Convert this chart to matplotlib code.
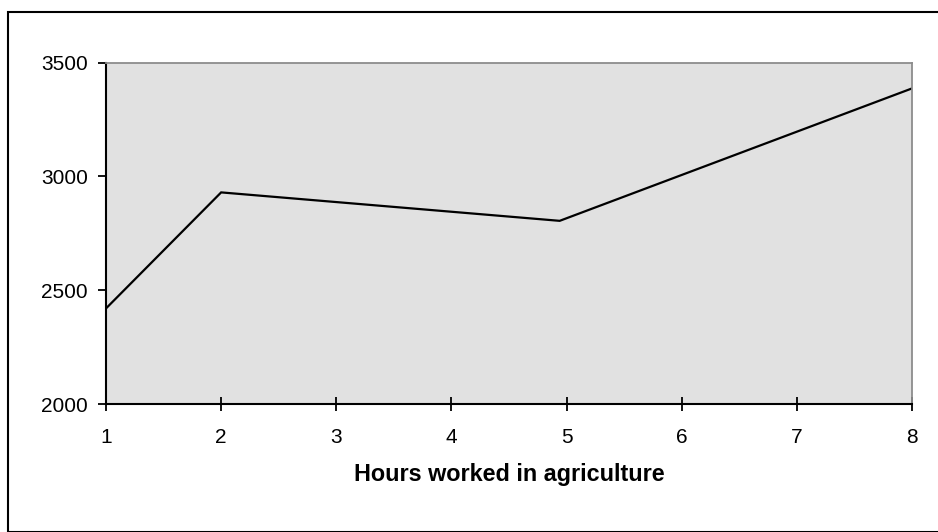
import matplotlib
matplotlib.use("Agg")
import matplotlib.pyplot as plt
from matplotlib.patches import Rectangle

# Hours worked in agriculture vs. output
hours = [1, 2, 4.94, 8]
values = [2420, 2930, 2805, 3387]
x_ticks = [1, 2, 3, 4, 5, 6, 7, 8]
y_ticks = [2000, 2500, 3000, 3500]
x_title = "Hours worked in agriculture"

plt.rcParams['font.family'] = ['Liberation Sans', 'DejaVu Sans']

W, H = 938, 532
fig = plt.figure(figsize=(W / 100, H / 100), dpi=100)

# outer chart frame
fig.patches.append(Rectangle((8 / W, 0), 1.2, 1 - 12 / H, transform=fig.transFigure,
                             fill=False, edgecolor='black', linewidth=1.5, zorder=0))

left, right, bottom, top = 106 / W, 912 / W, 1 - 404 / H, 1 - 62.7 / H
ax = fig.add_axes([left, bottom, right - left, top - bottom])
ax.set_facecolor('#e1e1e1')
ax.plot(hours, values, color='black', linewidth=1.6, solid_joinstyle='miter')

ax.set_xlim(1, 8)
ax.set_ylim(2000, 3500)
ax.set_xticks(x_ticks)
ax.set_yticks(y_ticks)

for s in ['left', 'bottom']:
    ax.spines[s].set_color('black')
    ax.spines[s].set_linewidth(1.5)
for s in ['top', 'right']:
    ax.spines[s].set_color('#8c8c8c')
    ax.spines[s].set_linewidth(1.3)

ax.tick_params(axis='y', direction='out', length=6, width=1.3, pad=7, labelsize=15)
ax.tick_params(axis='x', direction='inout', length=10, width=1.3, pad=12, labelsize=15)

ax.set_xlabel(x_title, fontsize=16.8, fontweight='bold', labelpad=12)

fig.savefig('out.png', dpi=100)
